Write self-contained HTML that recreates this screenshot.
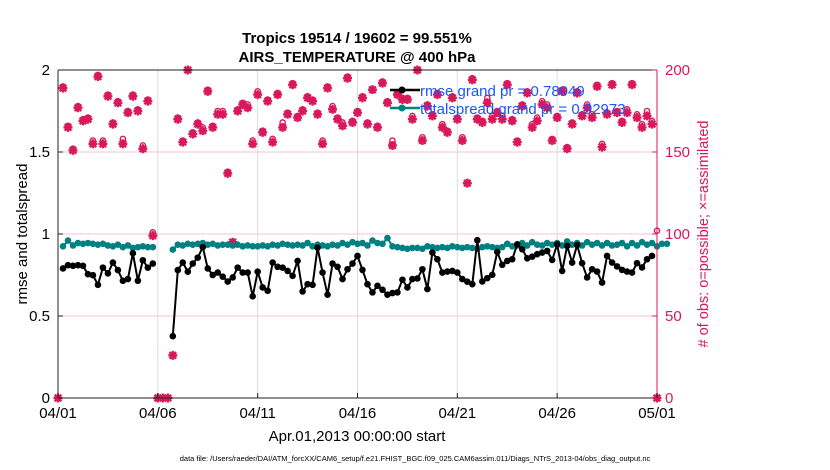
<!DOCTYPE html>
<html><head><meta charset="utf-8"><style>
body{margin:0;background:#fff;}
svg{display:block;font-family:"Liberation Sans",Arial,sans-serif;}
</style></head><body>
<svg id="chart" width="830" height="470" viewBox="0 0 830 470">
<rect width="830" height="470" fill="#fff"/>
<g id="grid"></g>
<g id="series"></g>
<g id="axes"></g>
<text x="357" y="43" text-anchor="middle" font-size="15" font-weight="bold">Tropics 19514 / 19602 = 99.551%</text>
<text x="357" y="62" text-anchor="middle" font-size="15" font-weight="bold">AIRS_TEMPERATURE @ 400 hPa</text>
<text transform="translate(27,234) rotate(-90)" text-anchor="middle" font-size="15">rmse and totalspread</text>
<text transform="translate(708,234) rotate(-90)" text-anchor="middle" font-size="14.5" fill="#d8185a"># of obs: o=possible; ×=assimilated</text>
<text x="357" y="441" text-anchor="middle" font-size="15">Apr.01,2013 00:00:00 start</text>
<text x="415" y="461" text-anchor="middle" font-size="7.5">data file: /Users/raeder/DAI/ATM_forcXX/CAM6_setup/f.e21.FHIST_BGC.f09_025.CAM6assim.011/Diags_NTrS_2013-04/obs_diag_output.nc</text>
<g id="legend"></g>
</svg>
<script>
const rmse = [null,
.79,.81,.806,.81,.806,.755,.749,.69,.795,.76,.826,.78,.715,.725,.883,.715,.84,.795,.82,
null,null,null,.377,
.78,.826,.77,.82,.856,.92,.79,.75,.765,.74,.71,.735,.795,.765,.765,.62,.77,.674,.654,.826,.80,.795,.775,.745,.836,.65,.694,.69,.917,.765,.63,.82,.80,.725,.785,.82,.866,
.781,.694,.644,.684,.660,.630,.640,.644,.721,.674,.725,.729,.785,.664,.887,.846,.765,.771,.775,.765,.725,.709,.694,.962,.711,.731,.751,.891,.812,.836,.846,.937,.907,.852,.862,.877,.887,.897,.842,.937,.775,.927,.826,.933,.822,.735,.785,.771,.704,.866,.826,.802,.781,.771,.765,.822,.796,.846,.866,
null];
const spread = [null,
.925,.96,.93,.945,.94,.945,.94,.935,.94,.93,.925,.935,.92,.93,.915,.92,.925,.92,.92,
null,null,null,.905,
.935,.93,.94,.935,.94,.945,.935,.94,.93,.935,.935,.93,.935,.925,.93,.925,.925,.93,.925,.935,.93,.94,.935,.93,.935,.93,.945,.925,.935,.93,.925,.935,.93,.945,.935,.95,.94,
.945,.93,.96,.945,.94,.975,.925,.92,.915,.91,.915,.915,.91,.925,.92,.915,.92,.915,.925,.92,.915,.92,.915,.91,.92,.925,.92,.915,.92,.94,.925,.93,.945,.93,.95,.935,.93,.945,.935,.945,.93,.955,.935,.945,.93,.95,.935,.945,.93,.945,.93,.935,.945,.925,.945,.93,.95,.935,.945,.925,.94,.94,
null];
const possible = [0,
190,166,152,178,170,171,157,197,157,185,168,181,158,175,185,176,154,182,101,
0,0,0,26,
171,157,200,162,168,165,188,166,175,175,138,95,176,180,179,157,187,163,182,158,186,168,174,192,172,176,184,182,174,157,190,178,171,168,196,169,175,
184,168,188,166,193,181,157,186,183,183,172,200,159,179,173,186,167,163,184,171,159,131,195,171,169,183,172,175,172,192,170,157,179,187,167,171,181,179,158,172,188,153,168,187,173,179,173,191,155,174,192,175,169,176,192,173,167,175,169,
102];
const assimilated = [0,
189,165,151,177,169,170,155,196,155,184,167,180,155,174,184,175,152,181,99,
0,0,0,26,
170,156,200,161,167,163,187,165,173,173,137,95,175,179,177,155,185,162,181,156,185,165,173,191,171,175,183,181,173,155,189,176,170,166,195,168,174,
183,167,188,165,192,180,154,185,182,182,170,200,157,178,172,185,165,162,183,170,157,131,194,170,168,180,170,174,170,191,169,156,178,186,165,169,179,177,157,171,187,152,167,186,172,177,171,190,153,173,191,174,168,174,191,171,165,172,167,
0];
const xTickLabels = ["04/01","04/06","04/11","04/16","04/21","04/26","05/01"];
const yLeftTicks = ["0","0.5","1","1.5","2"];
const yRightTicks = ["0","50","100","150","200"];

const X0=58,X1=657,Y0=398,Y1=70;
const NS="http://www.w3.org/2000/svg";
const PINK="#d8185a";
function xDay(d){return X0+(X1-X0)*d/30;}
function xIdx(i){return xDay(i*0.25);}
function yL(v){return Y0-(Y0-Y1)*v/2;}
function yR(v){return Y0-(Y0-Y1)*v/200;}
function mk(tag,attrs,parent){const e=document.createElementNS(NS,tag);for(const k in attrs)e.setAttribute(k,attrs[k]);parent.appendChild(e);return e;}
const grid=document.getElementById('grid'),ser=document.getElementById('series'),ax=document.getElementById('axes'),leg=document.getElementById('legend');

for(let k=1;k<xTickLabels.length-1;k++){const l=mk('line',{x1:xDay(k*5),x2:xDay(k*5),y1:Y1,y2:Y0,stroke:'#dcdcdc','stroke-width':1},grid);

}
for(let k=1;k<yLeftTicks.length-1;k++){const y=yL(parseFloat(yLeftTicks[k]));const l=mk('line',{x1:X0,x2:X1,y1:y,y2:y,stroke:'#f6c6d6','stroke-width':1},grid);

}

// obs markers (drawn first; possible circles beneath assimilated stars)
possible.forEach((v,i)=>{const c=mk('circle',{cx:xIdx(i),cy:yR(v),r:2.6,fill:'#fff',stroke:PINK,'stroke-width':1.4},ser);

});
assimilated.forEach((v,i)=>{const x=xIdx(i),y=yR(v);
const g=mk('g',{},ser);


mk('path',{d:`M${x-4.5},${y}L${x+4.5},${y}M${x},${y-4.5}L${x},${y+4.5}M${x-3.3},${y-3.3}L${x+3.3},${y+3.3}M${x-3.3},${y+3.3}L${x+3.3},${y-3.3}`,stroke:PINK,'stroke-width':2.4},g);
mk('circle',{cx:x,cy:y,r:2.6,fill:PINK},g);});

function drawLine(arr,color,name){
  let seg=[];const segs=[];
  arr.forEach((v,i)=>{if(v===null){if(seg.length)segs.push(seg);seg=[];}else seg.push([xIdx(i),yL(v)]);});
  if(seg.length)segs.push(seg);
  segs.forEach(s=>{const p=mk('polyline',{points:s.map(q=>q.join(',')).join(' '),fill:'none',stroke:color,'stroke-width':2},ser);
  
  });
  arr.forEach((v,i)=>{if(v===null)return;const c=mk('circle',{cx:xIdx(i),cy:yL(v),r:3.3,fill:color},ser);
  
  });
}
drawLine(spread,'#008080','totalspread');
drawLine(rmse,'#000','rmse');

// legend on top
mk('line',{x1:390,y1:90,x2:420,y2:90,stroke:'#000','stroke-width':2.5},leg);
mk('circle',{cx:402,cy:90,r:3.5,fill:'#000'},leg);
mk('line',{x1:390,y1:108,x2:420,y2:108,stroke:'#008080','stroke-width':2.5},leg);
mk('circle',{cx:402,cy:108,r:3.5,fill:'#008080'},leg);
const t1=mk('text',{x:420,y:96,'font-size':15,fill:'#1a55ff'},leg);t1.textContent='rmse grand pr = 0.78049';


const t2=mk('text',{x:420,y:114,'font-size':15,fill:'#1a55ff'},leg);t2.textContent='totalspread grand pr = 0.92973';



mk('line',{x1:X0,x2:X1,y1:Y1,y2:Y1,stroke:'#222','stroke-width':1},ax);
mk('line',{x1:X0,x2:X1,y1:Y0,y2:Y0,stroke:'#222','stroke-width':1},ax);
mk('line',{x1:X0,x2:X0,y1:Y1,y2:Y0,stroke:'#222','stroke-width':1},ax);
mk('line',{x1:X1,x2:X1,y1:Y1,y2:Y0,stroke:PINK,'stroke-width':1},ax);
xTickLabels.forEach((t,k)=>{const x=xDay(k*5);
mk('line',{x1:x,x2:x,y1:Y0,y2:Y0-5,stroke:'#222'},ax);
const e=mk('text',{x:x,y:Y0+20,'text-anchor':'middle','font-size':15},ax);e.textContent=t;

});
yLeftTicks.forEach(t=>{const y=yL(parseFloat(t));
mk('line',{x1:X0,x2:X0+5,y1:y,y2:y,stroke:'#222'},ax);
const e=mk('text',{x:X0-8,y:y+5,'text-anchor':'end','font-size':15},ax);e.textContent=t;

});
yRightTicks.forEach(t=>{const y=yR(parseFloat(t));
mk('line',{x1:X1-5,x2:X1,y1:y,y2:y,stroke:PINK},ax);
const e=mk('text',{x:X1+8,y:y+5,'text-anchor':'start','font-size':15,fill:PINK},ax);e.textContent=t;

});
</script>
</body></html>
